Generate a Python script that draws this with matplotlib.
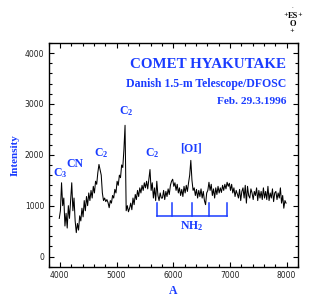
import numpy as np
import matplotlib
matplotlib.use("Agg")
import matplotlib.pyplot as plt
from matplotlib.ticker import MultipleLocator

plt.rcParams['mathtext.fontset'] = 'custom'
plt.rcParams['mathtext.bf'] = 'Liberation Serif:bold'
plt.rcParams['mathtext.rm'] = 'Liberation Serif:bold'

# Spectrum sampled every 20 A starting at 3990 A
start_wavelength = 3990
step_wavelength = 20
intensity = [
    # 3990 - 4990
    750, 900, 1450, 1000, 1150, 600, 850, 560, 1000, 750,
    1100, 1450, 900, 1150, 700, 470, 650, 520, 800, 700,
    950, 780, 1100, 900, 1180, 1000, 1250, 1100, 1300, 1150,
    1380, 1250, 1480, 1420, 1650, 1810, 1700, 1600, 1250, 1100,
    1150, 1080, 1120, 1060, 960, 1100, 1050, 1200, 1150, 1320,
    1250,
    # 5010 - 5990
    1480, 1400, 1600, 1550, 1800, 1750, 2100, 2580, 900, 1000,
    880, 950, 1050, 920, 1150, 1020, 1220, 1120, 1300, 1180,
    1350, 1250, 1400, 1300, 1450, 1350, 1480, 1330, 1520, 1710,
    1300, 1450, 1150, 1350, 1100, 1480, 1200, 1100, 1250, 1150,
    1150, 1300, 1120, 1280, 1180, 1330, 1220, 1400, 1480, 1520,
    # 6010 - 6990
    1380, 1450, 1300, 1420, 1250, 1350, 1200, 1320, 1180, 1380,
    1250, 1400, 1280, 1450, 1600, 1890, 1500, 1300, 1350, 1200,
    1320, 1150, 1300, 1180, 1330, 1150, 1280, 1100, 1020, 1250,
    1300, 1460, 1300, 1420, 1200, 1330, 1150, 1350, 1220, 1380,
    1250, 1350, 1260, 1400, 1300, 1420, 1330, 1460, 1380, 1440,
    # 7010 - 7990
    1300, 1420, 1250, 1350, 1180, 1300, 1230, 1150, 1320, 1100,
    1280, 1350, 1150, 1400, 1050, 1380, 1200, 1150, 1330, 1250,
    1120, 1280, 1200, 1350, 1100, 1300, 1150, 1280, 1120, 1350,
    1150, 1280, 1120, 1380, 1100, 1250, 1150, 1330, 1080, 1250,
    1280, 1120, 1250, 1150, 1350, 1050, 1200, 950, 1100, 1050,
]
wavelength = start_wavelength + step_wavelength * np.arange(len(intensity))

# Line labels: (text, wavelength, intensity)
line_labels = [r'$\mathbf{C_3}$', 'CN', r'$\mathbf{C_2}$', r'$\mathbf{C_2}$', r'$\mathbf{C_2}$', '[OI]']
line_label_x = [4015, 4265, 4730, 5174, 5628, 6318]
line_label_y = [1650, 1810, 2040, 2850, 2040, 2130]

# NH2 bracket
nh2_ticks = [5713, 5977, 6336, 6629, 6946]
nh2_base = 790
nh2_top = 1053

blue = '#1a3cff'
fig = plt.figure(figsize=(3.17, 3.0), dpi=100)
ax = fig.add_axes([0.153, 0.111, 0.787, 0.746])

ax.plot(wavelength, intensity, color='black', lw=0.75)

ax.set_xlim(3800, 8200)
ax.set_ylim(-200, 4200)
ax.xaxis.set_major_locator(MultipleLocator(1000))
ax.xaxis.set_minor_locator(MultipleLocator(200))
ax.yaxis.set_major_locator(MultipleLocator(1000))
ax.yaxis.set_minor_locator(MultipleLocator(200))
ax.tick_params(which='both', direction='in', top=True, right=True,
               labelsize=5.5, width=0.8, labelcolor='#222222', pad=3)
ax.tick_params(which='major', length=3.5)
ax.tick_params(which='minor', length=2)
for s in ax.spines.values():
    s.set_linewidth(1.0)

font = dict(family='Liberation Serif', weight='bold', color=blue)
ax.set_xlabel('A', fontsize=8.5, labelpad=4, **font)
ax.set_ylabel('Intensity', fontsize=8, labelpad=4, **font)

for t, x, y in zip(line_labels, line_label_x, line_label_y):
    ax.text(x, y, t, ha='center', va='center', fontsize=8.5, **font)

ax.plot([nh2_ticks[0], nh2_ticks[-1]], [nh2_base, nh2_base], color=blue, lw=1.1)
for x in nh2_ticks:
    ax.plot([x, x], [nh2_base, nh2_top], color=blue, lw=1.1)
ax.text(np.mean([nh2_ticks[0], nh2_ticks[-1]]), 600, r'$\mathbf{NH_2}$',
        ha='center', va='center', fontsize=8.5, **font)

ax.text(0.953, 0.905, 'COMET HYAKUTAKE', transform=ax.transAxes,
        ha='right', va='center', fontsize=10.8, **font)
ax.text(0.953, 0.815, 'Danish 1.5-m Telescope/DFOSC', transform=ax.transAxes,
        ha='right', va='center', fontsize=8.5, **font)
ax.text(0.953, 0.74, 'Feb. 29.3.1996', transform=ax.transAxes,
        ha='right', va='center', fontsize=8.2, **font)

# ESO logo
fig.text(293/317, 1 - 15.5/300, 'ES', ha='center', va='center', fontsize=6,
         family='Liberation Serif', weight='bold', color='black')
fig.text(292.5/317, 1 - 23.5/300, 'O', ha='center', va='center', fontsize=6,
         family='Liberation Serif', weight='bold', color='black')
for (px, py, ch) in [(292, 7, '.'), (286, 15, '+'), (300, 15, '+'), (292, 31, '+')]:
    fig.text(px/317, 1 - py/300, ch, ha='center', va='center', fontsize=4,
             color='black')

fig.savefig('out.png', dpi=100)
